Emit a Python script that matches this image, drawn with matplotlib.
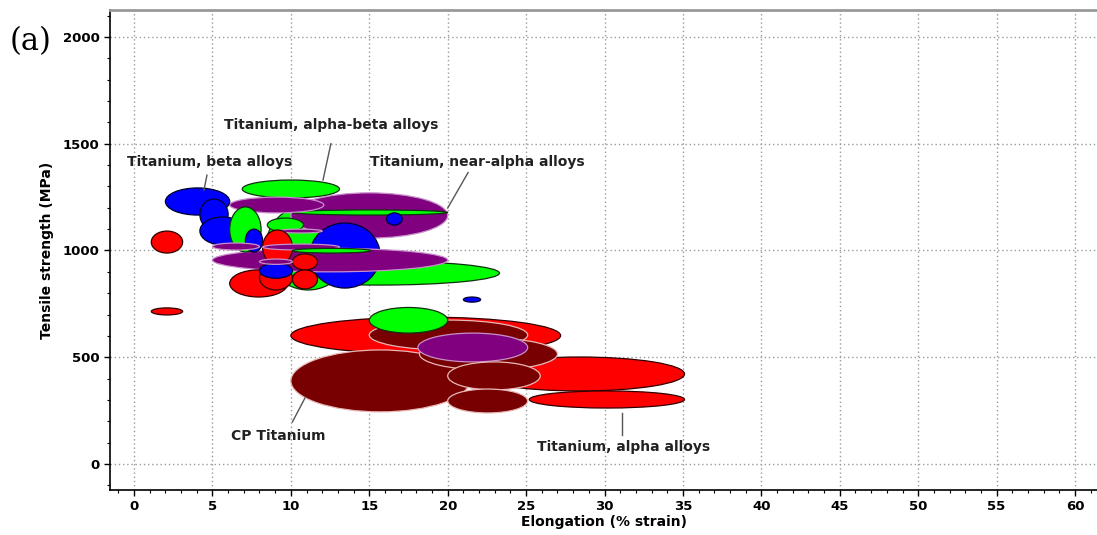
import numpy as np
import matplotlib
matplotlib.use("Agg")
import matplotlib.pyplot as plt
from matplotlib.patches import Ellipse
from matplotlib.ticker import MultipleLocator

# material bubbles: group, elongation range (%), tensile strength range (MPa)
groups = ["alpha", "alpha", "alpha", "cp", "cp", "cp", "near", "cp", "cp", "ab", "beta",
          "alpha", "alpha",
          "ab", "ab", "near", "beta", "near", "ab", "beta", "ab", "near",
          "beta", "beta", "beta", "ab", "beta", "ab", "near",
          "alpha", "alpha", "alpha", "alpha",
          "near", "near", "ab", "alpha", "beta", "near"]
x_lo = [10.0, 21.7, 25.2, 10.0, 15.0, 18.2, 18.1, 20.0, 20.0, 15.0, 21.0,
        1.1, 1.1,
        8.0, 8.4, 10.0, 11.2, 5.0, 10.1, 16.1, 6.9, 6.1,
        2.0, 4.2, 4.2, 6.1, 7.1, 8.5, 9.2,
        8.2, 6.1, 10.1, 10.1,
        5.0, 8.2, 10.1, 8.0, 8.0, 8.0]
x_hi = [27.2, 35.1, 35.1, 21.4, 25.1, 27.0, 25.1, 25.9, 25.1, 20.0, 22.1,
        3.1, 3.1,
        23.3, 13.8, 20.0, 15.7, 20.0, 20.0, 17.1, 13.1, 12.1,
        6.1, 6.0, 7.1, 8.1, 8.2, 10.8, 12.0,
        10.1, 9.8, 11.7, 11.7,
        8.0, 13.1, 15.1, 10.1, 10.1, 10.1]
y_lo = [515, 342, 262, 244, 534, 440, 478, 347, 239, 613, 758,
        698, 988,
        838, 815, 1058, 824, 900, 1166, 1119, 1246, 1176,
        1166, 1096, 1026, 993, 993, 1087, 1082,
        932, 782, 909, 820,
        1002, 1002, 988, 815, 870, 935]
y_hi = [688, 501, 342, 534, 674, 590, 613, 478, 351, 733, 782,
        731, 1091,
        950, 1213, 1270, 1129, 1010, 1190, 1176, 1330, 1250,
        1293, 1241, 1157, 1204, 1100, 1152, 1100,
        1096, 909, 984, 909,
        1035, 1030, 1010, 930, 940, 960]

labels = ["Titanium, alpha-beta alloys", "Titanium, beta alloys",
          "Titanium, near-alpha alloys", "CP Titanium", "Titanium, alpha alloys"]
label_xy = [(12.6, 1588), (4.8, 1414), (21.9, 1414), (9.2, 131), (31.2, 78)]
arrow_from = [(12.55, 1500), (4.65, 1353), (21.3, 1365), (10.1, 197), (31.1, 136)]
arrow_to = [(12.05, 1330), (4.46, 1283), (20.0, 1199), (10.9, 309), (31.1, 239)]

face = {"alpha": "#ff0000", "cp": "#780000", "ab": "#00ff00",
        "beta": "#0000ff", "near": "#800080"}
edge = {"alpha": "#300000", "cp": "#e8b8b8", "ab": "#103010",
        "beta": "#000030", "near": "#c890c8"}

fig = plt.figure(figsize=(10.97, 5.35), dpi=100)
ax = fig.add_axes([0.1003, 0.0841, 0.8997, 0.897])
ax.set_xlim(-1.53, 61.4)
ax.set_ylim(-122, 2126)

for g, a, b, c, d in zip(groups, x_lo, x_hi, y_lo, y_hi):
    e = Ellipse(((a + b) / 2, (c + d) / 2), b - a, d - c,
                facecolor=face[g], edgecolor=edge[g], lw=0.9, zorder=3)
    ax.add_patch(e)

for t, p, f, q in zip(labels, label_xy, arrow_from, arrow_to):
    ax.text(p[0], p[1], t, ha="center", va="center", fontsize=10,
            fontweight="bold", color="#222222", zorder=5)
    ax.plot([f[0], q[0]], [f[1], q[1]], color="#555555", lw=1.0, zorder=5)

ax.xaxis.set_major_locator(MultipleLocator(5))
ax.xaxis.set_minor_locator(MultipleLocator(1))
ax.yaxis.set_major_locator(MultipleLocator(500))
ax.yaxis.set_minor_locator(MultipleLocator(100))
ax.grid(True, which="major", ls=(0, (1, 2)), color="#9a9a9a", lw=1.0, zorder=0)
ax.tick_params(which="major", length=4, width=1, labelsize=9.5)
ax.tick_params(which="minor", length=2, width=0.8)
for lab in ax.get_xticklabels() + ax.get_yticklabels():
    lab.set_fontweight("bold")
ax.spines["right"].set_visible(False)
ax.spines["top"].set_color("#999999")
ax.spines["top"].set_linewidth(2)
ax.spines["left"].set_linewidth(1.2)
ax.spines["bottom"].set_linewidth(1.2)

ax.set_xlabel("Elongation (% strain)", fontsize=10, fontweight="bold", labelpad=1)
ax.set_ylabel("Tensile strength (MPa)", fontsize=10, fontweight="bold", labelpad=6)
fig.text(0.009, 0.923, "(a)", family="DejaVu Serif", fontsize=22, va="center")

fig.savefig("out.png", dpi=100)
